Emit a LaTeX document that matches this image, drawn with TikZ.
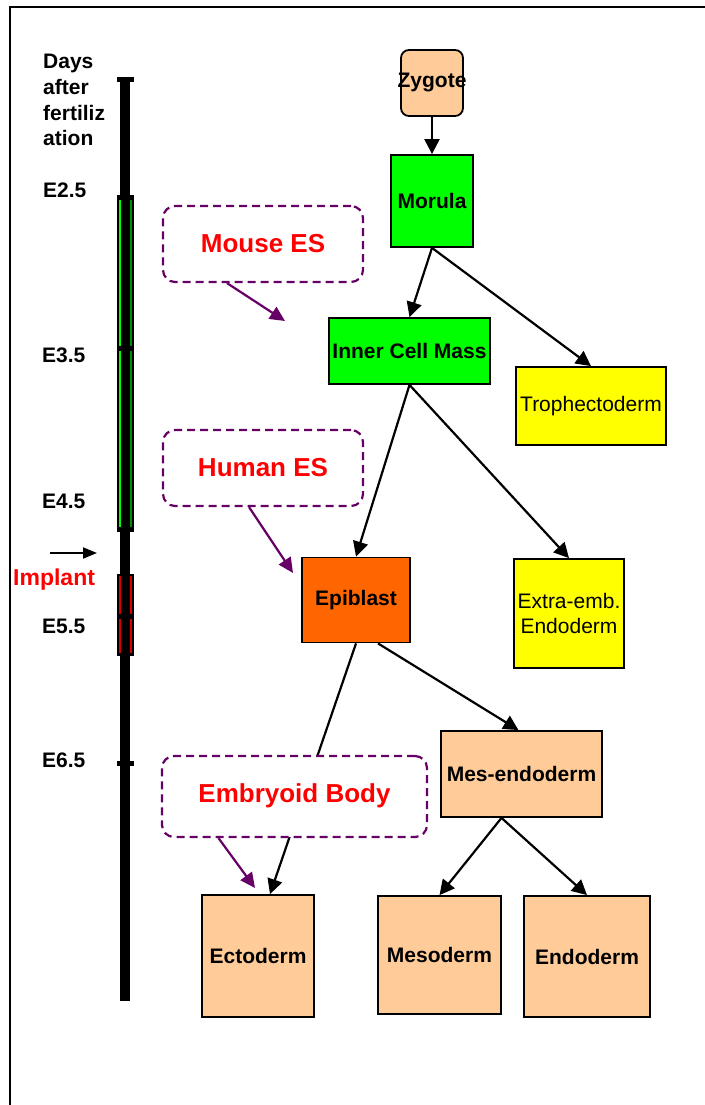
\documentclass[tikz,border=0pt]{standalone}
\usepackage{fontspec}
\setmainfont{Liberation Sans}
\usetikzlibrary{arrows.meta}
\definecolor{peach}{HTML}{FFCC99}
\definecolor{lgreen}{HTML}{00FF00}
\definecolor{yel}{HTML}{FFFF00}
\definecolor{orng}{HTML}{FF6600}
\definecolor{purp}{HTML}{660066}
\definecolor{redt}{HTML}{FF0000}
\begin{document}
\begin{tikzpicture}[x=1pt,y=-1pt,
 cell/.style={draw=black, line width=1.8pt, inner sep=0pt, font=\fontsize{21}{25}\selectfont\bfseries, align=center},
 cellr/.style={cell, font=\fontsize{21}{25}\selectfont},
 arr/.style={line width=2.2pt, -{Triangle[length=15pt,width=15pt]}},
 esbox/.style={draw=purp, dash pattern=on 8pt off 5pt, line width=2.2pt, rounded corners=12pt, fill=white, inner sep=0pt, text=redt, font=\fontsize{26}{30}\selectfont\bfseries},
 parr/.style={draw=purp, line width=2.2pt, -{Triangle[length=15pt,width=14pt]}},
 daylbl/.style={anchor=base west, inner sep=0pt, font=\fontsize{21}{25}\selectfont\bfseries},
 tickmk/.style={line width=5pt},
]
\useasboundingbox (0,0) rectangle (704,1105);
% frame
\draw[line width=2pt] (10,1106) -- (10,7) -- (705,7);

% timeline
\coordinate (tt) at (125,77);
\coordinate (tb) at (125,1001);
\draw[line width=10pt] (tt) -- (tb);
\filldraw[fill=black, draw=black, line width=0.8pt] (117,197) rectangle (133,529);
\draw[lgreen, line width=2pt] (119.8,199) -- (119.8,527);
\draw[green!55!black, line width=1.6pt] (131,199) -- (131,527);
\filldraw[fill=black, draw=black, line width=0.8pt] (117,574) rectangle (133,655);
\draw[red!85!black, line width=1.8pt] (119.8,576) -- (119.8,653);
\draw[red!85!black, line width=1.8pt] (131,576) -- (131,653);
\draw[tickmk] (117,79.5) -- (134,79.5);
\draw[tickmk] (117,197) -- (134,197);
\draw[tickmk] (117,348) -- (134,348);
\draw[tickmk] (117,529) -- (134,529);
\draw[tickmk] (117,616) -- (134,616);
\draw[tickmk] (117,763) -- (134,763);

% timeline labels
\node[daylbl] (d1) at (43,69) {Days};
\node[daylbl] (d2) at (43,95) {after};
\node[daylbl] (d3) at (43,120.5) {fertiliz};
\node[daylbl] (d4) at (43,146) {ation};
\node[daylbl] (e25) at (43,197) {E2.5};
\node[daylbl] (e35) at (42,362) {E3.5};
\node[daylbl] (e45) at (42,508) {E4.5};
\node[daylbl, text=redt, font=\fontsize{23}{27}\selectfont\bfseries] (impl) at (13,585) {Implant};
\node[daylbl] (e55) at (42,633) {E5.5};
\node[daylbl] (e65) at (42,767) {E6.5};
\coordinate (ia) at (50,553);
\coordinate (ib) at (97,553);
\draw[line width=2pt, -{Triangle[length=14pt,width=11pt]}] (ia) -- (ib);

% cells
\node[cell, fill=peach, rounded corners=8pt, minimum width=62pt, minimum height=66pt] (zyg) at (432,83) {\makebox[0pt]{Zygote}};
\node[cell, fill=lgreen, minimum width=82pt, minimum height=92pt] (mor) at (432,201) {Morula};
\node[cell, fill=lgreen, minimum width=161pt, minimum height=66pt] (icm) at (409.5,351) {Inner Cell Mass};
\node[cellr, fill=yel, minimum width=150pt, minimum height=78pt] (tro) at (591,406) {Trophectoderm};
\node[cell, fill=orng, minimum width=108pt, minimum height=85pt] (epi) at (356,600) {Epiblast};
\node[cellr, fill=yel, minimum width=110pt, minimum height=109pt] (xen) at (569,613.5) {Extra-emb.\\ Endoderm};
\node[cell, fill=peach, minimum width=161pt, minimum height=86pt] (mes) at (521.5,774) {Mes-endoderm};
\node[cell, fill=peach, minimum width=112pt, minimum height=122pt] (ecto) at (258,956) {Ectoderm};
\node[cell, fill=peach, minimum width=123pt, minimum height=118pt] (meso) at (439.5,955) {Mesoderm};
\node[cell, fill=peach, minimum width=126pt, minimum height=121pt] (endo) at (587,956.5) {Endoderm};

% connectors
\draw[arr] (zyg.south) -- (mor.north);
\draw[arr] (mor.south) -- (icm.north);
\draw[arr] (mor.south) -- (tro.north);
\draw[arr] (icm.south) -- (epi.north);
\draw[arr] (icm.south) -- (xen.north);
\draw[arr] (epi.south) -- ([xshift=12pt]ecto.north);
\draw[arr] ([xshift=22pt]epi.south) -- ([xshift=-3pt]mes.north);
\draw[arr] ([xshift=-20pt]mes.south) -- (meso.north);
\draw[arr] ([xshift=-20pt]mes.south) -- (endo.north);

% ES boxes
\node[esbox, minimum width=200pt, minimum height=76pt] (mouse) at (263,244) {Mouse ES};
\node[esbox, minimum width=200pt, minimum height=76pt] (human) at (263,468) {Human ES};
\node[esbox, minimum width=265pt, minimum height=81pt] (eb) at (294.5,796.5) {\raisebox{7pt}{Embryoid Body}};

\coordinate (mt) at (285,321);
\coordinate (ht) at (293,573);
\coordinate (et) at (255,888);
\draw[parr] ([xshift=-36pt]mouse.south) -- (mt);
\draw[parr] ([xshift=-14pt]human.south) -- (ht);
\draw[parr] ([xshift=-76pt]eb.south) -- (et);
\end{tikzpicture}
\end{document}
